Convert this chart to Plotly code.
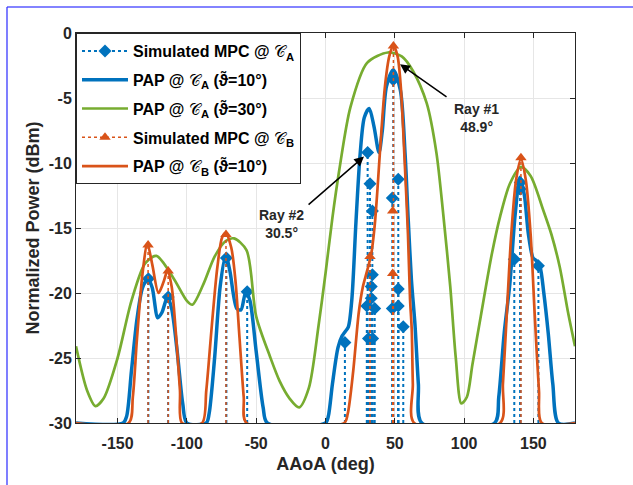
import plotly.graph_objects as go

FLOOR = -30

# Simulated MPC @ C_A (stems)
mpcA_deg = [-127.8, -113.5, -71.5, -56.5, 14.0, 30.4, 32.1, 33.8, 33.8, 33.0, 33.0, 31.0, 34.0, 29.8, 35.5,
            48.9, 48.2, 52.5, 52.5, 48.2, 52.5, 56.1, 136.2, 140.5, 140.5, 153.6]
mpcA_db = [-18.9, -20.3, -17.3, -19.9, -23.8, -9.2, -11.6, -13.7, -18.6, -19.5, -20.4, -23.5, -23.5, -21.0, -21.2,
           -3.6, -12.7, -11.25, -19.7, -21.2, -21.0, -22.6, -17.4, -11.5, -12.0, -17.9]

# Simulated MPC @ C_B (stems)
mpcB_deg = [-128.0, -113.5, -71.8, 32.1, 48.5, 48.5, 49.0, 141.0]
mpcB_db = [-16.3, -18.3, -15.5, -17.2, -13.7, -18.5, -1.0, -9.6]

# PAP @ C_A (theta=10 deg)
papA10_deg = [-180, -146, -143.5, -140, -136, -132, -128, -125, -121, -118, -114, -111, -107, -103, -100,
              -86, -84, -80, -76, -72, -69, -64, -61, -57.5, -54.5, -50, -45, -42,
              0, 2, 5, 9, 12, 14, 16.5, 19, 22, 25, 28, 31.5, 35, 38.6, 41, 44, 48.9, 54, 57.4, 59.7, 62, 64.6, 67, 69.5,
              122, 125, 129, 133, 136.7, 140.3, 143.5, 146.3, 149.7, 152, 154.8, 157.5, 160.7, 164, 168, 180]
papA10_db = [-30, -30, -29.5, -26, -22, -19.6, -18.9, -19.6, -21.9, -21.5, -20.3, -21.2, -24.5, -28.5, -30,
             -30, -29.3, -25, -19.5, -17.1, -18.3, -21.2, -21.3, -19.9, -20.6, -24.5, -28.8, -30,
             -30, -29.5, -27, -24.2, -23.3, -23.0, -22.6, -20.5, -14.5, -9.3, -6.5, -5.8, -7.2, -9.2, -7.5, -4.1, -2.85,
             -4.4, -9.25, -14.4, -19, -22.5, -27, -30,
             -30, -28, -23, -19.3, -14.1, -11.1, -12.5, -15.4, -17.3, -17.5, -18, -20, -23.1, -27, -30, -30]

# PAP @ C_A (theta=30 deg)
papA30_deg = [-180, -172, -166, -160, -150, -140, -130, -122, -110, -100, -96, -88, -80, -72, -66, -57, -50, -40,
              -33, -26, -19, -12, -5, 0, 5, 10, 18, 30, 45, 55, 63, 73, 80, 85, 90, 94, 98, 102, 106, 112, 120, 126,
              133, 141, 148, 157, 163, 169, 175, 180]
papA30_db = [-24.1, -27.5, -28.7, -28.1, -25.0, -20.6, -17.7, -17.15, -18.8, -20.6, -20.9, -19.3, -17.2, -16.0,
             -15.8, -16.7, -21.8, -24.9, -26.8, -28.1, -28.8, -27.3, -22.5, -18.5, -14.2, -10.5, -5.7, -2.3, -1.5,
             -1.8, -2.9, -5.4, -9.2, -14.0, -19.5, -25.0, -28.5, -28.0, -25.5, -21.8, -17.0, -14.1, -11.6, -10.3,
             -11.0, -13.6, -15.5, -18.0, -21.5, -24.1]

# PAP @ C_B (theta=10 deg)
papB10_deg = [-180, -142, -139, -136, -132, -128.5, -125, -120.5, -117, -114, -111, -108, -105, -103.5,
              -89, -86, -82, -78, -74.5, -72, -68, -65, -62, -59, -57,
              13.5, 16, 20, 24, 27, 30, 33, 35.5, 37.5, 39.5, 42.9, 46, 49, 52, 54.3, 57.4, 59.5, 61, 62.2, 63, 64,
              126, 128, 130.7, 134, 137.5, 141, 144.5, 148, 151, 154, 156, 180]
papB10_db = [-30, -30, -28, -23.5, -18.5, -16.2, -17.8, -20.0, -19.2, -18.3, -19.5, -23, -27.5, -30,
             -30, -27.5, -22.5, -18, -15.7, -15.4, -16.5, -19, -23.5, -28, -30,
             -30, -29.3, -26, -21.5, -19.5, -18.3, -17.0, -14.8, -12, -8.8, -4.1, -1.8, -0.95, -1.8, -4.1, -10.5,
             -15.5, -20.5, -22.8, -27, -30,
             -30, -27, -21.8, -15.5, -11.3, -9.7, -11.3, -15.5, -21.8, -27.5, -30, -30]

x_ticks = [-150, -100, -50, 0, 50, 100, 150]
y_ticks = [0, -5, -10, -15, -20, -25, -30]

CAL = '<span style="font-weight:normal">𝒞</span>'
legend_names = [
    "Simulated MPC @ " + CAL + "<sub>A</sub>",
    "PAP @ " + CAL + "<sub>A</sub> (ϑ̃=10°)",
    "PAP @ " + CAL + "<sub>A</sub> (ϑ̃=30°)",
    "Simulated MPC @ " + CAL + "<sub>B</sub>",
    "PAP @ " + CAL + "<sub>B</sub> (ϑ̃=10°)",
]

BLUE = "#0072BD"
ORANGE = "#D95319"
GREEN = "#77AC30"
FONT = "Arial, Liberation Sans, sans-serif"


def stems(xs, ys):
    sx, sy = [], []
    for x, y in zip(xs, ys):
        sx += [x, x, None]
        sy += [FLOOR, y, None]
    return sx, sy


def bold(s):
    return "<b>" + s + "</b>"


fig = go.Figure()

ax_, ay_ = stems(mpcA_deg, mpcA_db)
fig.add_trace(go.Scatter(x=ax_, y=ay_, mode="lines", line=dict(color=BLUE, width=2, dash="dot"),
                         showlegend=False, hoverinfo="skip"))
fig.add_trace(go.Scatter(x=mpcA_deg, y=mpcA_db, mode="markers",
                         marker=dict(symbol="diamond", size=10, color=BLUE), showlegend=False))
fig.add_trace(go.Scatter(x=[None], y=[None], mode="lines+markers", name=bold(legend_names[0]), legendgroup="g1",
                         line=dict(color=BLUE, width=2, dash="dot"),
                         marker=dict(symbol="diamond", size=10, color=BLUE)))

fig.add_trace(go.Scatter(x=papA10_deg, y=papA10_db, mode="lines", name=bold(legend_names[1]), legendgroup="g2",
                         line=dict(color=BLUE, width=3.5, shape="spline", smoothing=0.8)))
fig.add_trace(go.Scatter(x=papA30_deg, y=papA30_db, mode="lines", name=bold(legend_names[2]), legendgroup="g3",
                         line=dict(color=GREEN, width=2.7, shape="spline", smoothing=0.8)))

bx_, by_ = stems(mpcB_deg, mpcB_db)
fig.add_trace(go.Scatter(x=bx_, y=by_, mode="lines", line=dict(color=ORANGE, width=1.5, dash="dot"),
                         showlegend=False, hoverinfo="skip"))
fig.add_trace(go.Scatter(x=mpcB_deg, y=mpcB_db, mode="markers",
                         marker=dict(symbol="triangle-up", size=10, color=ORANGE), showlegend=False))
fig.add_trace(go.Scatter(x=[None], y=[None], mode="lines+markers", name=bold(legend_names[3]), legendgroup="g4",
                         line=dict(color=ORANGE, width=1.5, dash="dot"),
                         marker=dict(symbol="triangle-up", size=10, color=ORANGE)))
fig.add_trace(go.Scatter(x=papB10_deg, y=papB10_db, mode="lines", name=bold(legend_names[4]), legendgroup="g5",
                         line=dict(color=ORANGE, width=2.7, shape="spline", smoothing=0.8)))

axis_common = dict(showline=True, linecolor="#262626", linewidth=1, mirror="allticks", ticks="inside",
                   ticklen=5, tickcolor="#262626", showgrid=True, gridcolor="#e6e6e6", gridwidth=1,
                   zeroline=False, tickfont=dict(family=FONT, size=16, color="#262626"))

fig.update_xaxes(range=[-180, 180], tickvals=x_ticks, ticktext=[bold(str(v)) for v in x_ticks],
                 ticklabelstandoff=6, **axis_common,
                 title=dict(text=bold("AAoA (deg)"), font=dict(family=FONT, size=18, color="#262626"), standoff=6))
fig.update_yaxes(range=[-30, 0], tickvals=y_ticks, ticktext=[bold(str(v)) for v in y_ticks], **axis_common,
                 title=dict(text=bold("Normalized Power (dBm)"), font=dict(family=FONT, size=18, color="#262626"),
                            standoff=4))

# Annotations (arrows + text)
fig.add_annotation(x=53.8, y=-2.4, ax=88.4, ay=-5.0, axref="x", ayref="y", xref="x", yref="y", text="",
                   showarrow=True, arrowhead=2, arrowsize=1.3, arrowwidth=1.5, arrowcolor="black")
fig.add_annotation(x=108.6, y=-6.5, xref="x", yref="y", text=bold("Ray #1<br>48.9°"), showarrow=False,
                   font=dict(family=FONT, size=14, color="#262626"))
fig.add_annotation(x=27.8, y=-9.5, ax=-13.3, ay=-13.3, axref="x", ayref="y", xref="x", yref="y", text="",
                   showarrow=True, arrowhead=2, arrowsize=1.3, arrowwidth=1.5, arrowcolor="black")
fig.add_annotation(x=-31.4, y=-14.7, xref="x", yref="y", text=bold("Ray #2<br>30.5°"), showarrow=False,
                   font=dict(family=FONT, size=14, color="#262626"))

# Figure frame lines (top and left)
L, R, T, B = 76, 58, 33, 62
W, H = 633, 485
pw, ph = W - L - R, H - T - B


def px2paper_x(px):
    return (px - L) / pw


def px2paper_y(py):
    return (H - B - py) / ph


fig.add_shape(type="line", xref="paper", yref="paper", x0=px2paper_x(7), x1=px2paper_x(640),
              y0=px2paper_y(7), y1=px2paper_y(7), line=dict(color="#5a5aff", width=1.3))
fig.add_shape(type="line", xref="paper", yref="paper", x0=px2paper_x(7), x1=px2paper_x(7),
              y0=px2paper_y(7), y1=px2paper_y(490), line=dict(color="#3a3aff", width=1.3))

fig.update_layout(
    width=W, height=H, margin=dict(l=L, r=R, t=T, b=B),
    paper_bgcolor="white", plot_bgcolor="white",
    font=dict(family=FONT, size=16, color="black"),
    legend=dict(x=0, y=1, xanchor="left", yanchor="top", bgcolor="white", bordercolor="#262626",
                borderwidth=1, font=dict(family=FONT, size=16, color="black"),
                tracegroupgap=5, itemwidth=46),
    showlegend=True,
)

fig.write_html("out.html")
